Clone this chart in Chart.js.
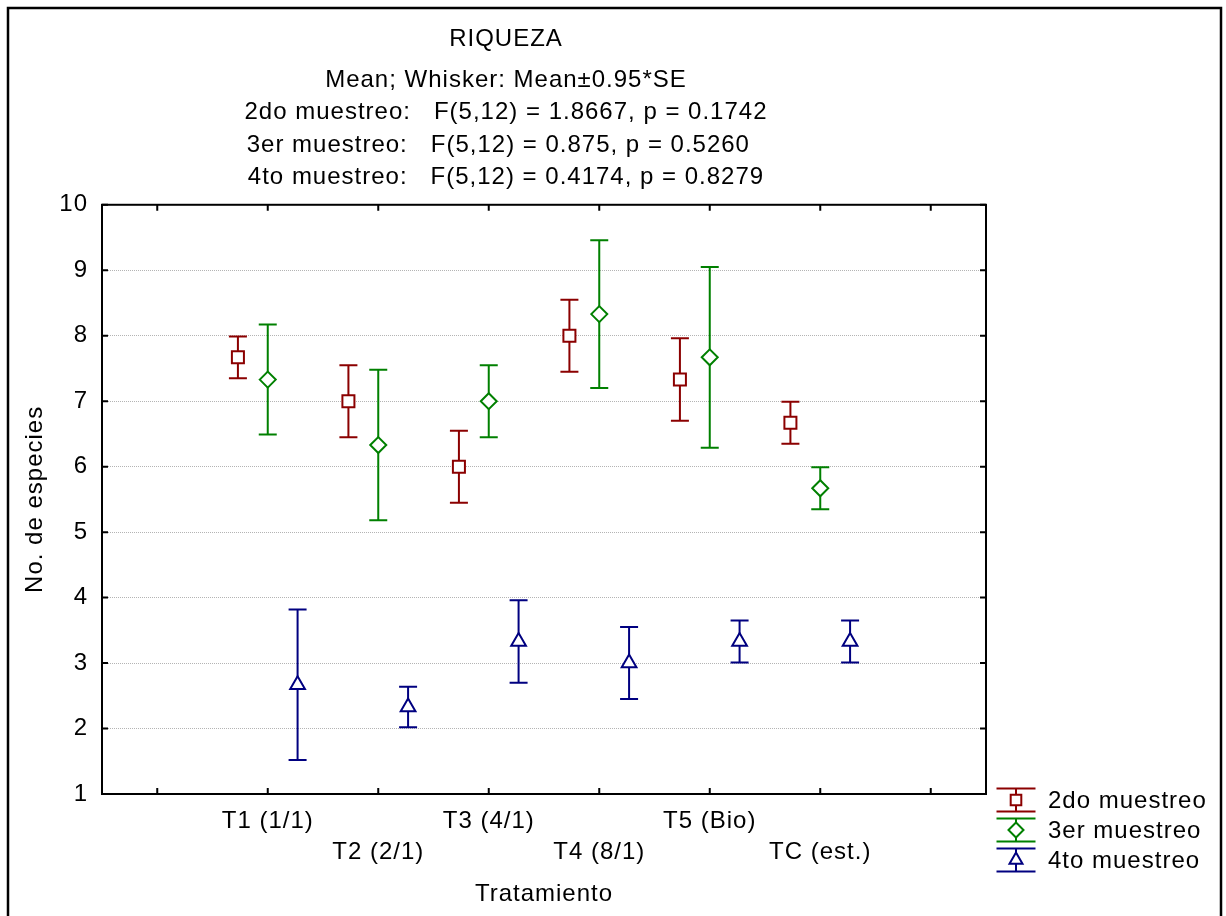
<!DOCTYPE html>
<html>
<head>
<meta charset="utf-8">
<script src="https://cdn.jsdelivr.net/npm/chart.js@4.4.1/dist/chart.umd.min.js"></script>
<style>
	html, body { margin: 0; padding: 0; background: #fff; }
	canvas { display: block; }
</style>
</head>
<body>
<canvas id="myChart" width="1226" height="916"></canvas>
<script>
// datos
const tratamientos = ['T1 (1/1)', 'T2 (2/1)', 'T3 (4/1)', 'T4 (8/1)', 'T5 (Bio)', 'TC (est.)'];
const muestreos = ['2do muestreo', '3er muestreo', '4to muestreo'];

const media2do = [7.67, 7.0, 6.0, 8.0, 7.33, 6.67];
const error2do = [0.32, 0.55, 0.55, 0.55, 0.63, 0.32];
const media3er = [7.33, 6.33, 7.0, 8.33, 7.67, 5.67];
const error3er = [0.84, 1.15, 0.55, 1.13, 1.38, 0.32];
const media4to = [2.67, 2.33, 3.33, 3.0, 3.33, 3.33];
const error4to = [1.15, 0.31, 0.63, 0.55, 0.32, 0.32];

const yTicks = [1, 2, 3, 4, 5, 6, 7, 8, 9, 10];
const titulo = 'RIQUEZA';
const subtitulo = [
	'Mean; Whisker: Mean\u00b10.95*SE',
	'2do muestreo:   F(5,12) = 1.8667, p = 0.1742',
	'3er muestreo:   F(5,12) = 0.875, p = 0.5260  ',
	'4to muestreo:   F(5,12) = 0.4174, p = 0.8279',
];

const fuente = "'Liberation Sans', Arial, sans-serif";
const colores = ['#8b0000', '#008000', '#000080'];
const estilos = ['rect', 'rectRot', 'triangle'];
const radios = [8.5, 8, 8.5];
const desplaz = [-0.27, 0, 0.27];

const medias = [media2do, media3er, media4to];
const errores = [error2do, error3er, error4to];

const datasets = muestreos.map((nombre, s) => ({
	label: nombre,
	data: medias[s].map((m, i) => ({ x: i + 1 + desplaz[s], y: m })),
	errores: errores[s],
	borderColor: colores[s],
	backgroundColor: '#fff',
	pointStyle: estilos[s],
	pointRadius: radios[s],
	pointHoverRadius: radios[s],
	pointBorderWidth: 2,
	showLine: false,
}));

const espaciado = {
	id: 'espaciado',
	beforeUpdate(chart) { chart.ctx.letterSpacing = '1px'; },
	beforeDraw(chart) { chart.ctx.letterSpacing = '1px'; },
};

// bigotes (media +/- error)
const bigotes = {
	id: 'bigotes',
	beforeDatasetsDraw(chart) {
		const { ctx, scales: { x, y } } = chart;
		chart.data.datasets.forEach((ds) => {
			ctx.save();
			ctx.strokeStyle = ds.borderColor;
			ctx.lineWidth = 2;
			ds.data.forEach((p, i) => {
				const px = x.getPixelForValue(p.x);
				const arriba = y.getPixelForValue(p.y + ds.errores[i]);
				const abajo = y.getPixelForValue(p.y - ds.errores[i]);
				ctx.beginPath();
				ctx.moveTo(px, arriba);
				ctx.lineTo(px, abajo);
				ctx.moveTo(px - 9, arriba);
				ctx.lineTo(px + 9, arriba);
				ctx.moveTo(px - 9, abajo);
				ctx.lineTo(px + 9, abajo);
				ctx.stroke();
			});
			ctx.restore();
		});
	},
};

// marco, marcas hacia adentro y leyenda
const marco = {
	id: 'marco',
	afterDatasetsDraw(chart) {
		const { ctx, chartArea: a, scales: { x, y } } = chart;
		ctx.save();
		ctx.strokeStyle = '#000';
		ctx.lineWidth = 2;
		ctx.strokeRect(a.left, a.top, a.right - a.left, a.bottom - a.top);
		ctx.beginPath();
		for (let v = 0; v <= 7; v++) {
			const px = x.getPixelForValue(v);
			ctx.moveTo(px, a.top);
			ctx.lineTo(px, a.top + 6);
			ctx.moveTo(px, a.bottom);
			ctx.lineTo(px, a.bottom - 6);
		}
		yTicks.forEach((v) => {
			const py = y.getPixelForValue(v);
			ctx.moveTo(a.left, py);
			ctx.lineTo(a.left + 6, py);
			ctx.moveTo(a.right, py);
			ctx.lineTo(a.right - 6, py);
		});
		ctx.stroke();

		// borde exterior
		ctx.lineWidth = 2.5;
		ctx.strokeRect(8, 8, chart.width - 13, chart.height + 20);

		// leyenda
		const lx = 1016, ly0 = 800, paso = 30;
		chart.data.datasets.forEach((ds, s) => {
			const cy = ly0 + s * paso;
			ctx.strokeStyle = ds.borderColor;
			ctx.lineWidth = 2;
			ctx.beginPath();
			ctx.moveTo(lx, cy - 11.5);
			ctx.lineTo(lx, cy + 11.5);
			ctx.moveTo(lx - 19.5, cy - 11.5);
			ctx.lineTo(lx + 19.5, cy - 11.5);
			ctx.moveTo(lx - 19.5, cy + 11.5);
			ctx.lineTo(lx + 19.5, cy + 11.5);
			ctx.stroke();
			ctx.fillStyle = '#fff';
			Chart.helpers.drawPoint(ctx, { pointStyle: ds.pointStyle, radius: 7.5, rotation: 0, borderWidth: 2 }, lx, cy);
			ctx.fillStyle = '#000';
			ctx.font = '24px ' + fuente;
			ctx.textAlign = 'left';
			ctx.textBaseline = 'middle';
			ctx.fillText(ds.label, 1048, cy + 1);
		});
		ctx.restore();
	},
};

const config = {
	type: 'scatter',
	data: { datasets: datasets },
	options: {
		responsive: false,
		animation: false,
		events: [],
		layout: { padding: { left: 26, right: 240, top: 10, bottom: 0 } },
		plugins: {
			legend: { display: false },
			tooltip: { enabled: false },
			title: {
				display: true,
				text: titulo,
				color: '#000',
				font: { family: fuente, size: 24, weight: 'normal', lineHeight: 1.2 },
				padding: { top: 15, bottom: 0 },
			},
			subtitle: {
				display: true,
				text: subtitulo,
				color: '#000',
				font: { family: fuente, size: 24, weight: 'normal', lineHeight: 1.354 },
				padding: { top: 10, bottom: 11 },
			},
		},
		scales: {
			x: {
				type: 'linear',
				min: -0.5,
				max: 7.5,
				afterBuildTicks: (scale) => {
					scale.ticks = tratamientos.map((t, i) => ({ value: i + 1 }));
				},
				afterFit: (scale) => { scale.height = 122; },
				grid: { display: false, drawTicks: false },
				border: { display: false },
				ticks: {
					autoSkip: false,
					maxRotation: 0,
					padding: 12,
					color: '#000',
					font: { family: fuente, size: 24, lineHeight: 1.3 },
					callback: (v) => {
						const i = Math.round(v) - 1;
						return i % 2 ? ['', tratamientos[i]] : tratamientos[i];
					},
				},
				title: {
					display: true,
					text: 'Tratamiento',
					color: '#000',
					font: { family: fuente, size: 24, lineHeight: 1.2 },
					padding: { top: 0, bottom: 7 },
				},
			},
			y: {
				min: 1,
				max: 10,
				afterFit: (scale) => { scale.width = 76; },
				grid: { color: '#b4b4b4', lineWidth: 1, drawTicks: false },
				border: { display: false, dash: [1, 1] },
				ticks: {
					stepSize: 1,
					padding: 14,
					color: '#000',
					font: { family: fuente, size: 24 },
				},
				title: {
					display: true,
					text: 'No. de especies',
					color: '#000',
					font: { family: fuente, size: 24, lineHeight: 1.2 },
					padding: { top: -5, bottom: 0 },
				},
			},
		},
	},
	plugins: [espaciado, bigotes, marco],
};

const myChart = new Chart(document.getElementById('myChart'), config);
</script>
</body>
</html>
